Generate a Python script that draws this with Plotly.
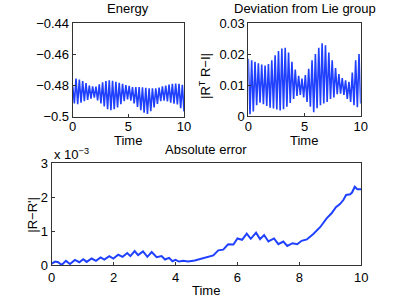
import numpy as np
import plotly.graph_objects as go

# ---------------- data ----------------
time_grid = np.linspace(0, 10, 68)  # sample times of the oscillating series

energy = [-0.4805, -0.4915, -0.4756, -0.4920, -0.4762, -0.4910, -0.4772, -0.4900,
          -0.4785, -0.4892, -0.4800, -0.4885, -0.4806, -0.4878, -0.4808, -0.4895,
          -0.4792, -0.4915, -0.4780, -0.4935, -0.4772, -0.4952, -0.4767, -0.4958,
          -0.4770, -0.4952, -0.4777, -0.4940, -0.4783, -0.4920, -0.4789, -0.4900,
          -0.4797, -0.4889, -0.4803, -0.4897, -0.4810, -0.4915, -0.4811, -0.4938,
          -0.4811, -0.4958, -0.4812, -0.4975, -0.4815, -0.4982, -0.4818, -0.4965,
          -0.4818, -0.4940, -0.4818, -0.4918, -0.4813, -0.4900, -0.4806, -0.4898,
          -0.4800, -0.4902, -0.4794, -0.4910, -0.4789, -0.4916, -0.4788, -0.4922,
          -0.4790, -0.4945, -0.4795, -0.4967]

deviation = [0.0185, 0.0006, 0.0180, 0.0015, 0.0175, 0.0035, 0.0170, 0.0043,
             0.0166, 0.0038, 0.0163, 0.0032, 0.0168, 0.0027, 0.0180, 0.0024,
             0.0196, 0.0021, 0.0210, 0.0018, 0.0218, 0.0022, 0.0220, 0.0030,
             0.0205, 0.0042, 0.0175, 0.0055, 0.0150, 0.0065, 0.0130, 0.0068,
             0.0121, 0.0060, 0.0132, 0.0045, 0.0152, 0.0030, 0.0180, 0.0012,
             0.0200, 0.0025, 0.0220, 0.0035, 0.0235, 0.0040, 0.0228, 0.0045,
             0.0205, 0.0055, 0.0180, 0.0060, 0.0155, 0.0070, 0.0135, 0.0072,
             0.0122, 0.0068, 0.0115, 0.0055, 0.0110, 0.0045, 0.0140, 0.0035,
             0.0180, 0.0028, 0.0200, 0.0040]

err_time = [0, 0.11, 0.21, 0.32, 0.46, 0.59, 0.75, 0.89, 1.02, 1.13, 1.29, 1.43,
            1.58, 1.70, 1.86, 1.99, 2.15, 2.29, 2.44, 2.54, 2.68, 2.79, 2.95, 3.09,
            3.23, 3.39, 3.55, 3.66, 3.79, 3.90, 4.0, 4.11, 4.25, 4.41, 4.62, 4.84,
            5.06, 5.22, 5.38, 5.54, 5.70, 5.87, 6.0, 6.15, 6.30, 6.43, 6.60, 6.73,
            6.86, 7.0, 7.18, 7.32, 7.48, 7.61, 7.78, 7.93, 8.07, 8.24, 8.45, 8.67,
            8.88, 9.04, 9.18, 9.31, 9.42, 9.51, 9.64, 9.70, 9.79, 9.87, 10.0]
err_e3 = [0.05, 0.11, 0.09, 0.01, 0.13, 0.04, 0.16, 0.09, 0.18, 0.10, 0.20, 0.13,
          0.23, 0.17, 0.27, 0.20, 0.31, 0.25, 0.36, 0.27, 0.42, 0.30, 0.41, 0.25,
          0.39, 0.24, 0.27, 0.17, 0.22, 0.12, 0.16, 0.11, 0.13, 0.11, 0.14, 0.19,
          0.25, 0.29, 0.44, 0.46, 0.62, 0.61, 0.79, 0.75, 0.93, 0.78, 0.96, 0.77,
          0.89, 0.70, 0.79, 0.62, 0.70, 0.57, 0.65, 0.62, 0.72, 0.76, 0.92, 1.12,
          1.38, 1.53, 1.71, 1.80, 1.92, 2.07, 2.09, 2.14, 2.31, 2.24, 2.24]

energy_yticks = [-0.5, -0.48, -0.46, -0.44]
energy_yticklabels = ["\u22120.5", "\u22120.48", "\u22120.46", "\u22120.44"]
dev_yticks = [0, 0.01, 0.02, 0.03]
dev_yticklabels = ["0", "0.01", "0.02", "0.03"]
err_yticks = [0, 1, 2, 3]
top_xticks = [0, 5, 10]
bottom_xticks = [0, 2, 4, 6, 8, 10]

# ---------------- figure ----------------
W, H = 399, 299
BLUE = "#2040ff"
FONT = "Liberation Sans, Arial, sans-serif"
FS = 13

def px_x(p):
    return p / W

def px_y(p):
    return 1 - p / H

fig = go.Figure()
fig.add_trace(go.Scatter(x=time_grid, y=energy, mode="lines",
                         line=dict(color=BLUE, width=1.6), xaxis="x", yaxis="y"))
fig.add_trace(go.Scatter(x=time_grid, y=deviation, mode="lines",
                         line=dict(color=BLUE, width=1.6), xaxis="x2", yaxis="y2"))
fig.add_trace(go.Scatter(x=err_time, y=err_e3, mode="lines",
                         line=dict(color=BLUE, width=2), xaxis="x3", yaxis="y3"))

axcommon = dict(showline=True, mirror=True, linecolor="#333", linewidth=1,
                ticks="inside", ticklen=3, tickcolor="#333", showgrid=False,
                zeroline=False, tickfont=dict(family=FONT, size=FS, color="#000"))

fig.update_layout(
    width=W, height=H, margin=dict(l=0, r=0, t=0, b=0, autoexpand=False),
    paper_bgcolor="white", plot_bgcolor="white", showlegend=False,
    font=dict(family=FONT, size=FS, color="#000"),
    xaxis=dict(domain=[px_x(72.7), px_x(184)], range=[0, 10], tickvals=top_xticks,
               anchor="y", ticklabelstandoff=-2, **axcommon),
    yaxis=dict(domain=[px_y(116.7), px_y(23)], range=[-0.5, -0.44],
               tickvals=energy_yticks, ticktext=energy_yticklabels, anchor="x", **axcommon),
    xaxis2=dict(domain=[px_x(248.3), px_x(360.7)], range=[0, 10], tickvals=top_xticks,
                anchor="y2", ticklabelstandoff=-2, **axcommon),
    yaxis2=dict(domain=[px_y(116), px_y(23)], range=[0, 0.03],
                tickvals=dev_yticks, ticktext=dev_yticklabels, anchor="x2", **axcommon),
    xaxis3=dict(domain=[px_x(51.7), px_x(361.3)], range=[0, 10], tickvals=bottom_xticks,
                anchor="y3", **axcommon),
    yaxis3=dict(domain=[px_y(265.3), px_y(163.3)], range=[0, 3],
                tickvals=err_yticks, anchor="x3", **axcommon),
)

def label(text, x, y, angle=0):
    fig.add_annotation(text=text, x=px_x(x), y=px_y(y), xref="paper", yref="paper",
                       showarrow=False, textangle=angle, xanchor="center", yanchor="middle",
                       font=dict(family=FONT, size=FS, color="#000"))

label("Energy", 128, 8.5)
label("Deviation from Lie group", 304.5, 8.5)
label("Absolute error", 206, 149)
label("Time", 128, 140)
label("Time", 304, 140)
label("Time", 206, 290)
label("|R<sup>T</sup> R\u2212I|", 205, 76, -90)
label("|R\u2212R'|", 31.7, 215, -90)
fig.add_annotation(text="x 10<sup>\u22123</sup>", x=px_x(52), y=px_y(154), xref="paper",
                   yref="paper", showarrow=False, xanchor="left", yanchor="middle",
                   font=dict(family=FONT, size=FS, color="#000"))

fig.write_html("out.html", config={"displayModeBar": False},
               post_script="document.body.style.margin='0';")
